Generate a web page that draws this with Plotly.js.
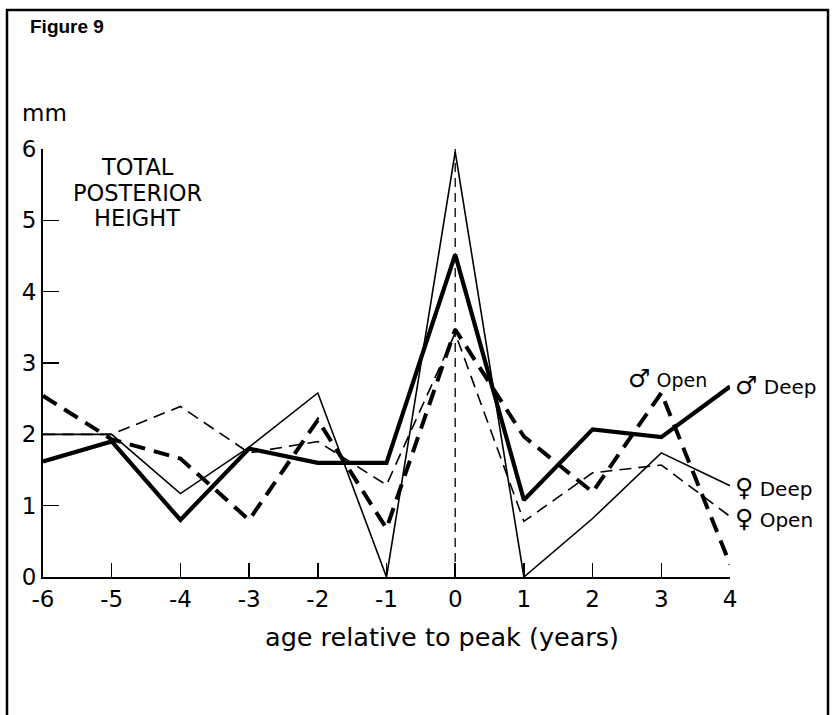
<!DOCTYPE html>
<html>
<head>
<meta charset="utf-8">
<script src="https://cdn.plot.ly/plotly-3.0.1.min.js"></script>
<style>html,body{margin:0;padding:0;background:#fff;}#chart{width:836px;height:715px;}</style>
</head>
<body>
<div id="chart"></div>
<script>
// ---- data ----
const ages = [-6, -5, -4, -3, -2, -1, 0, 1, 2, 3, 4];
const maleDeep   = [1.62, 1.90, 0.80, 1.80, 1.60, 1.60, 4.52, 1.08, 2.07, 1.96, 2.67];
const maleOpen   = [2.54, 1.93, 1.66, 0.80, 2.20, 0.68, 3.47, 1.97, 1.19, 2.58, 0.18];
const femaleDeep = [2.00, 2.00, 1.17, 1.82, 2.58, 0.00, 5.96, 0.00, 0.82, 1.74, 1.28];
const femaleOpen = [2.00, 2.00, 2.39, 1.74, 1.90, 1.29, 3.42, 0.78, 1.46, 1.57, 0.85];
const xTicks = [-6, -5, -4, -3, -2, -1, 0, 1, 2, 3, 4];
const xTickText = ['-6', '-5', '-4', '-3', '-2', '-1', '0', '1', '2', '3', '4'];
const yTicks = [0, 1, 2, 3, 4, 5, 6];
const peakX = 0;
const yMax = 6;
const noteLines = ['TOTAL', 'POSTERIOR', 'HEIGHT'];

// ---- layout geometry (pixels) ----
const W = 836, H = 715;
const L = 43, R = 730, T = 149, B = 577;
const px = v => (v - L) / (R - L);
const py = v => (B - v) / (B - T);

const FONT = 'DejaVu Sans, Lato, sans-serif';
const sym = s => '<span style="font-size:25px">' + s + '</span>';

const traces = [
  {x: ages, y: femaleDeep, mode: 'lines', line: {color: '#000', width: 1.6}, name: '♀ Deep'},
  {x: ages, y: femaleOpen, mode: 'lines', line: {color: '#000', width: 1.6, dash: '12px,7px'}, name: '♀ Open'},
  {x: ages, y: maleOpen, mode: 'lines', line: {color: '#000', width: 4, dash: '16px,9px'}, name: '♂ Open'},
  {x: ages, y: maleDeep, mode: 'lines', line: {color: '#000', width: 4.2}, name: '♂ Deep'}
];

const noteY = [167, 193, 218];
const annotations = [
  {text: '<b>Figure 9</b>', xref: 'paper', yref: 'paper', x: px(28), y: py(27),
   xanchor: 'left', yanchor: 'middle', showarrow: false,
   font: {family: 'Liberation Sans, Arial, sans-serif', size: 19, color: '#000'}},
  {text: 'mm', xref: 'paper', yref: 'paper', x: px(20), y: py(113),
   xanchor: 'left', yanchor: 'middle', showarrow: false,
   font: {family: FONT, size: 23, color: '#000'}},
  {text: 'age relative to peak (years)', xref: 'paper', yref: 'paper', x: px(442), y: py(637),
   xanchor: 'center', yanchor: 'middle', showarrow: false,
   font: {family: FONT, size: 25.5, color: '#000'}},
  {text: sym('♂') + ' Open', xref: 'paper', yref: 'paper', x: px(626), y: py(378),
   xanchor: 'left', yanchor: 'middle', showarrow: false,
   font: {family: FONT, size: 19, color: '#000'}},
  {text: sym('♂') + ' Deep', xref: 'paper', yref: 'paper', x: px(733), y: py(385),
   xanchor: 'left', yanchor: 'middle', showarrow: false,
   font: {family: FONT, size: 20, color: '#000'}},
  {text: sym('♀') + ' Deep', xref: 'paper', yref: 'paper', x: px(733), y: py(487),
   xanchor: 'left', yanchor: 'middle', showarrow: false,
   font: {family: FONT, size: 20, color: '#000'}},
  {text: sym('♀') + ' Open', xref: 'paper', yref: 'paper', x: px(733), y: py(518),
   xanchor: 'left', yanchor: 'middle', showarrow: false,
   font: {family: FONT, size: 20, color: '#000'}}
];
noteLines.forEach((t, i) => annotations.push({
  text: t, xref: 'paper', yref: 'paper', x: px(137), y: py(noteY[i]),
  xanchor: 'center', yanchor: 'middle', showarrow: false,
  font: {family: FONT, size: 22.5, color: '#000'}
}));

const layout = {
  width: W, height: H,
  margin: {l: L, r: W - R, t: T, b: H - B, pad: 0},
  paper_bgcolor: '#fff', plot_bgcolor: 'rgba(0,0,0,0)',
  showlegend: false,
  font: {family: FONT, color: '#000'},
  xaxis: {
    range: [-6, 4], showgrid: false, zeroline: false,
    showline: true, linecolor: '#000', linewidth: 2,
    ticks: 'inside', ticklen: 14, tickwidth: 1.5, tickcolor: '#000',
    tickvals: xTicks, ticktext: xTickText,
    tickfont: {family: FONT, size: 23, color: '#000'}
  },
  yaxis: {
    range: [0, yMax], showgrid: false, zeroline: false,
    showline: true, linecolor: '#000', linewidth: 2,
    ticks: 'inside', ticklen: 16, tickwidth: 1.5, tickcolor: '#000',
    tickvals: yTicks,
    tickfont: {family: FONT, size: 23, color: '#000'}
  },
  shapes: [
    {type: 'line', xref: 'x', yref: 'y', x0: peakX, x1: peakX, y0: 0, y1: yMax,
     line: {color: '#000', width: 1.3, dash: '9px,6px'}, layer: 'below'},
    {type: 'rect', xref: 'paper', yref: 'paper',
     x0: px(7), x1: px(828), y0: py(722), y1: py(10),
     line: {color: '#000', width: 2.5}, fillcolor: 'rgba(0,0,0,0)'}
  ],
  annotations: annotations
};

Plotly.newPlot('chart', traces, layout, {displayModeBar: false, staticPlot: true});
</script>
</body>
</html>
